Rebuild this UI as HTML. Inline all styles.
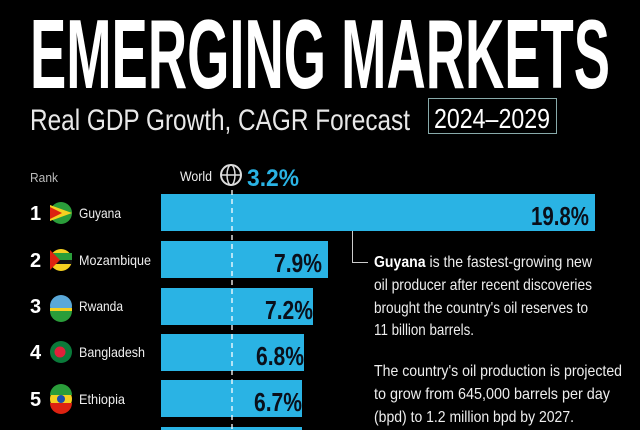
<!DOCTYPE html>
<html><head><meta charset="utf-8"><style>
html,body{margin:0;padding:0;background:#000;width:640px;height:430px;overflow:hidden}
svg{display:block}
text{font-family:"Liberation Sans",sans-serif}
</style></head><body>
<svg width="640" height="430" viewBox="0 0 640 430">
<rect width="640" height="430" fill="#000"/>
<text x="30" y="88" font-size="98" font-weight="bold" fill="#fff" textLength="580" lengthAdjust="spacingAndGlyphs">EMERGING MARKETS</text>
<text x="30" y="130" font-size="30" fill="#e8e8e8" textLength="380" lengthAdjust="spacingAndGlyphs">Real GDP Growth, CAGR Forecast</text>
<rect x="428.5" y="98.5" width="128" height="35" fill="none" stroke="#8aa" stroke-width="1"/>
<text x="434" y="128" font-size="28" fill="#fff" textLength="116" lengthAdjust="spacingAndGlyphs">2024–2029</text>
<text x="30" y="182" font-size="13" fill="#bbb" textLength="28" lengthAdjust="spacingAndGlyphs">Rank</text>
<text x="180" y="181" font-size="14" fill="#eee" textLength="32" lengthAdjust="spacingAndGlyphs">World</text>
<circle cx="231" cy="175" r="10" fill="none" stroke="#ddd" stroke-width="2"/>
<ellipse cx="231" cy="175" rx="4" ry="10" fill="none" stroke="#ddd" stroke-width="1.5"/>
<line x1="221" y1="175" x2="241" y2="175" stroke="#ddd" stroke-width="1.5"/>
<text x="247" y="186" font-size="24" font-weight="bold" fill="#2ab3e4" textLength="52" lengthAdjust="spacingAndGlyphs">3.2%</text>
<g fill="#2ab3e4">
<rect x="161" y="194" width="434" height="37"/>
<rect x="161" y="241" width="167" height="37"/>
<rect x="161" y="288" width="152" height="37"/>
<rect x="161" y="334" width="143" height="37"/>
<rect x="161" y="380" width="141" height="37"/>
<rect x="161" y="427" width="141" height="10"/>
</g>
<line x1="232" y1="190" x2="232" y2="430" stroke="#fff" stroke-width="1.3" stroke-dasharray="5,4"/>
<g font-weight="bold" fill="#0a0f1a" font-size="26" text-anchor="end">
<text x="589" y="225" textLength="58" lengthAdjust="spacingAndGlyphs">19.8%</text>
<text x="322" y="272" textLength="48" lengthAdjust="spacingAndGlyphs">7.9%</text>
<text x="313" y="319" textLength="48" lengthAdjust="spacingAndGlyphs">7.2%</text>
<text x="304" y="365" textLength="48" lengthAdjust="spacingAndGlyphs">6.8%</text>
<text x="302" y="411" textLength="48" lengthAdjust="spacingAndGlyphs">6.7%</text>
</g>
<g fill="#fff" font-weight="bold" font-size="20">
<text x="30" y="220">1</text><text x="30" y="267">2</text><text x="30" y="313">3</text><text x="30" y="359">4</text><text x="30" y="406">5</text>
</g>
<g>
<circle cx="61" cy="213" r="11" fill="#2a9d3a"/><path d="M50 205 L72 213 L50 221Z" fill="#f5d020"/><path d="M50 207 L62 213 L50 219Z" fill="#d21"/>
<circle cx="61" cy="260" r="11" fill="#f5d020"/><rect x="50" y="253" width="22" height="7" fill="#2a9d3a"/><rect x="50" y="260" width="22" height="4" fill="#111"/><path d="M50 250 L60 260 L50 270Z" fill="#d21"/>
<circle cx="61" cy="306" r="11" fill="#5aa8d8"/><rect x="50" y="308" width="22" height="3" fill="#f5d020"/><path d="M50 311 H72 A11 11 0 0 1 50 311Z" fill="#2a9d3a"/>
<circle cx="61" cy="352" r="11" fill="#0a7a3a"/><circle cx="60" cy="352" r="5.5" fill="#e0203a"/>
<circle cx="61" cy="399" r="11" fill="#f5d020"/><path d="M50 395 A11 11 0 0 1 72 395Z" fill="#2a9d3a"/><path d="M50 403 H72 A11 11 0 0 1 50 403Z" fill="#d21"/><circle cx="61" cy="399" r="4" fill="#1a4fb0"/>
</g>
<g fill="#eee" font-size="14">
<text x="79" y="218" textLength="42" lengthAdjust="spacingAndGlyphs">Guyana</text>
<text x="79" y="265" textLength="72" lengthAdjust="spacingAndGlyphs">Mozambique</text>
<text x="79" y="311" textLength="44" lengthAdjust="spacingAndGlyphs">Rwanda</text>
<text x="79" y="357" textLength="66" lengthAdjust="spacingAndGlyphs">Bangladesh</text>
<text x="79" y="404" textLength="46" lengthAdjust="spacingAndGlyphs">Ethiopia</text>
</g>
<path d="M352.5 231 V262.5 H368" fill="none" stroke="#ccc" stroke-width="1"/>
<g fill="#eee" font-size="16">
<text x="374" y="267" textLength="218" lengthAdjust="spacingAndGlyphs"><tspan font-weight="bold" fill="#fff">Guyana</tspan> is the fastest-growing new</text>
<text x="374" y="290" textLength="218" lengthAdjust="spacingAndGlyphs">oil producer after recent discoveries</text>
<text x="374" y="313" textLength="214" lengthAdjust="spacingAndGlyphs">brought the country's oil reserves to</text>
<text x="374" y="335" textLength="100" lengthAdjust="spacingAndGlyphs">11 billion barrels.</text>
<text x="374" y="376" textLength="248" lengthAdjust="spacingAndGlyphs">The country's oil production is projected</text>
<text x="374" y="399" textLength="236" lengthAdjust="spacingAndGlyphs">to grow from 645,000 barrels per day</text>
<text x="374" y="422" textLength="200" lengthAdjust="spacingAndGlyphs">(bpd) to 1.2 million bpd by 2027.</text>
</g>
</svg>
</body></html>
